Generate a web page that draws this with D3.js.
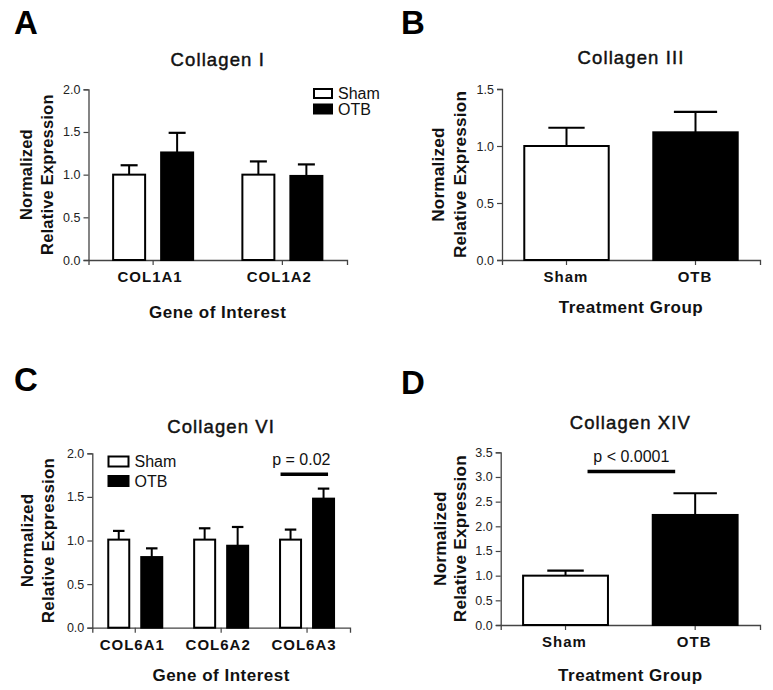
<!DOCTYPE html>
<html><head><meta charset="utf-8">
<script src="https://cdn.jsdelivr.net/npm/d3@7"></script>
<style>
body{margin:0;background:#fff}
svg{display:block}
</style></head><body>
<svg id="chart" width="773" height="690"></svg>
<script>
// ---------- DATA ----------
const seriesNames = ["Sham", "OTB"];

// Panel A - Collagen I
const colICategories = ["COL1A1", "COL1A2"];
const colIShamMean = [1.00, 1.00];
const colIShamSem  = [0.11, 0.155];
const colIOtbMean  = [1.26, 0.985];
const colIOtbSem   = [0.23, 0.135];
const colITicks    = [0, 0.5, 1.0, 1.5, 2.0];

// Panel B - Collagen III
const colIIIGroups = ["Sham", "OTB"];
const colIIIMean   = [1.00, 1.12];
const colIIISem    = [0.16, 0.18];
const colIIITicks  = [0, 0.5, 1.0, 1.5];

// Panel C - Collagen VI
const colVICategories = ["COL6A1", "COL6A2", "COL6A3"];
const colVIShamMean = [1.01, 1.01, 1.01];
const colVIShamSem  = [0.10, 0.13, 0.115];
const colVIOtbMean  = [0.81, 0.94, 1.48];
const colVIOtbSem   = [0.10, 0.215, 0.115];
const colVITicks    = [0, 0.5, 1.0, 1.5, 2.0];
const colVISigCategory = "COL6A3";
const colVISigValue = 1.76;
const colVISigLabel = "p = 0.02";

// Panel D - Collagen XIV
const colXIVGroups = ["Sham", "OTB"];
const colXIVMean   = [1.00, 2.23];
const colXIVSem    = [0.10, 0.44];
const colXIVTicks  = [0, 0.5, 1.0, 1.5, 2.0, 2.5, 3.0, 3.5];
const colXIVSigValue = 3.11;
const colXIVSigLabel = "p < 0.0001";

// ---------- DRAWING ----------
const FONT = "'Liberation Sans', Arial, Helvetica, sans-serif";
const svg = d3.select("#chart");
const fmt = d3.format(".1f");

function panelFrame(p) {
  const g = svg.append("g");
  const y = d3.scaleLinear().domain([0, p.yMax]).range([p.bottom, p.top]);
  // panel letter
  g.append("text").attr("x", p.letterX).attr("y", p.letterY)
    .attr("font-family", FONT).attr("font-weight", "bold").attr("font-size", 33)
    .text(p.letter);
  // title
  const cx = (p.left + p.right) / 2;
  g.append("text").attr("x", cx).attr("y", p.titleY).attr("text-anchor", "middle")
    .attr("font-family", FONT).attr("font-size", 18.5).attr("letter-spacing", 1.1)
    .attr("fill", "#111").attr("stroke", "#111").attr("stroke-width", 0.45)
    .text(p.title);
  // y axis
  const yAxis = d3.axisLeft(y).tickValues(p.ticks).tickFormat(fmt)
    .tickSizeOuter(0).tickSize(5).tickPadding(3);
  const ya = g.append("g").attr("transform", `translate(${p.left},0)`).call(yAxis);
  ya.select(".domain").attr("stroke", "#444").attr("stroke-width", 1.3);
  ya.selectAll(".tick line").attr("stroke", "#444").attr("stroke-width", 1.2);
  ya.selectAll(".tick text").attr("font-family", FONT).attr("font-size", 12.5).attr("fill", "#222");
  // y titles
  const cy = (p.top + p.bottom) / 2;
  [["Normalized", p.yLab1X], ["Relative Expression", p.yLab2X]].forEach(([t, xx]) => {
    g.append("text").attr("transform", `translate(${xx},${cy}) rotate(-90)`)
      .attr("text-anchor", "middle").attr("font-family", FONT).attr("font-weight", "bold")
      .attr("font-size", p.yLabSize).attr("letter-spacing", 0.2).attr("fill", "#111").text(t);
  });
  // x title
  g.append("text").attr("x", cx).attr("y", p.xTitleY).attr("text-anchor", "middle")
    .attr("font-family", FONT).attr("font-weight", "bold").attr("font-size", 17)
    .attr("letter-spacing", 0.5).attr("fill", "#111").text(p.xTitle);
  return { g, y };
}

function xAxisDraw(g, x, p, categories) {
  const xAxis = d3.axisBottom(x).tickSizeOuter(0).tickSize(5).tickFormat("");
  const xa = g.append("g").attr("transform", `translate(0,${p.bottom})`).call(xAxis);
  xa.select(".domain").attr("stroke", "#444").attr("stroke-width", 1.3);
  xa.selectAll(".tick line").attr("stroke", "#444").attr("stroke-width", 1.2);
  g.selectAll("text.cat").data(categories).join("text").attr("class", "cat")
    .attr("x", d => x(d) + x.bandwidth() / 2 + p.catShift).attr("y", p.bottom + 22)
    .attr("text-anchor", "middle").attr("font-family", FONT).attr("font-weight", "bold")
    .attr("font-size", 15).attr("letter-spacing", 1).attr("fill", "#111").text(d => d);
}

function drawBar(g, y, xLeft, bw, mean, sem, fill, capFrac) {
  const cxb = xLeft + bw / 2;
  g.append("rect").attr("x", xLeft + 1).attr("y", y(mean))
    .attr("width", bw - 2).attr("height", y(0) - y(mean))
    .attr("fill", fill).attr("stroke", "#000").attr("stroke-width", 2);
  g.append("line").attr("x1", cxb).attr("x2", cxb).attr("y1", y(mean)).attr("y2", y(mean + sem))
    .attr("stroke", "#000").attr("stroke-width", 2);
  const cw = bw * capFrac / 2;
  g.append("line").attr("x1", cxb - cw).attr("x2", cxb + cw).attr("y1", y(mean + sem)).attr("y2", y(mean + sem))
    .attr("stroke", "#000").attr("stroke-width", 2.2);
}

function legend(g, lx, ly, gap, box) {
  seriesNames.forEach((s, i) => {
    g.append("rect").attr("x", lx + 1).attr("y", ly + i * gap + 1)
      .attr("width", box[0] - 2).attr("height", box[1] - 2)
      .attr("fill", i === 0 ? "#fff" : "#000").attr("stroke", "#000").attr("stroke-width", 2);
    g.append("text").attr("x", lx + box[0] + 5).attr("y", ly + i * gap + box[1] / 2)
      .attr("dy", "0.36em").attr("font-family", FONT).attr("font-size", 16).attr("fill", "#111").text(s);
  });
}

function groupedPanel(p, categories, shamMean, shamSem, otbMean, otbSem) {
  const { g, y } = panelFrame(p);
  const x0 = d3.scaleBand().domain(categories).range([p.left, p.right]);
  const x1 = d3.scaleBand().domain(seriesNames).range([-p.half, p.half]).paddingInner(p.inner);
  xAxisDraw(g, x0, p, categories);
  categories.forEach((c, i) => {
    const gc = x0(c) + x0.bandwidth() / 2;
    drawBar(g, y, gc + x1("Sham"), x1.bandwidth(), shamMean[i], shamSem[i], "#fff", 0.5);
    drawBar(g, y, gc + x1("OTB"), x1.bandwidth(), otbMean[i], otbSem[i], "#000", 0.5);
  });
  return { g, y, x0, x1 };
}

function singlePanel(p, groups, mean, sem) {
  const { g, y } = panelFrame(p);
  const x = d3.scaleBand().domain(groups).range([p.left, p.right]).paddingInner(0.33).paddingOuter(0.165);
  xAxisDraw(g, x, p, groups);
  groups.forEach((c, i) => {
    drawBar(g, y, x(c), x.bandwidth(), mean[i], sem[i], i === 0 ? "#fff" : "#000", i === 0 ? 0.42 : 0.5);
  });
  return { g, y, x };
}

// Panel A
const A = groupedPanel({
  letter: "A", letterX: 14, letterY: 34, title: "Collagen I", titleY: 66,
  left: 88.5, right: 347, top: 89.3, bottom: 260, yMax: 2.0, ticks: colITicks,
  yLab1X: 31.5, yLab2X: 53, yLabSize: 16.5, xTitle: "Gene of Interest", xTitleY: 318,
  half: 41, inner: 0.2917, catShift: -3
}, colICategories, colIShamMean, colIShamSem, colIOtbMean, colIOtbSem);
legend(A.g, 313, 88, 15.5, [20, 11]);

// Panel B
singlePanel({
  letter: "B", letterX: 401, letterY: 34, title: "Collagen III", titleY: 64,
  left: 502, right: 760, top: 89, bottom: 260, yMax: 1.5, ticks: colIIITicks,
  yLab1X: 444, yLab2X: 466, yLabSize: 17.2, xTitle: "Treatment Group", xTitleY: 313,
  catShift: -0.5
}, colIIIGroups, colIIIMean, colIIISem);

// Panel C
const C = groupedPanel({
  letter: "C", letterX: 14, letterY: 391, title: "Collagen VI", titleY: 433,
  left: 92.3, right: 350, top: 453.3, bottom: 627.7, yMax: 2.0, ticks: colVITicks,
  yLab1X: 33, yLab2X: 54, yLabSize: 17, xTitle: "Gene of Interest", xTitleY: 681,
  half: 28, inner: 0.303, catShift: -3
}, colVICategories, colVIShamMean, colVIShamSem, colVIOtbMean, colVIOtbSem);
legend(C.g, 107.5, 455.5, 19.5, [22, 12]);
{
  const gc = C.x0(colVISigCategory) + C.x0.bandwidth() / 2;
  const x1s = gc + C.x1("Sham") + 1.5, x2s = gc + C.x1("OTB") + C.x1.bandwidth() - 7;
  C.g.append("line").attr("x1", x1s).attr("x2", x2s)
    .attr("y1", C.y(colVISigValue)).attr("y2", C.y(colVISigValue))
    .attr("stroke", "#000").attr("stroke-width", 3.5);
  C.g.append("text").attr("x", (x1s + x2s) / 2 - 3).attr("y", C.y(colVISigValue) - 9)
    .attr("text-anchor", "middle").attr("font-family", FONT).attr("font-size", 16)
    .attr("fill", "#111").text(colVISigLabel);
}

// Panel D
const D = singlePanel({
  letter: "D", letterX: 401, letterY: 394, title: "Collagen XIV", titleY: 429,
  left: 500.7, right: 760, top: 452.3, bottom: 625, yMax: 3.5, ticks: colXIVTicks,
  yLab1X: 446, yLab2X: 466, yLabSize: 17.2, xTitle: "Treatment Group", xTitleY: 681,
  catShift: -1
}, colXIVGroups, colXIVMean, colXIVSem);
{
  const xs = D.x("Sham") + D.x.bandwidth() / 2 + 22;
  const xe = D.x("OTB") + D.x.bandwidth() / 2 - 20;
  D.g.append("line").attr("x1", xs).attr("x2", xe)
    .attr("y1", D.y(colXIVSigValue)).attr("y2", D.y(colXIVSigValue))
    .attr("stroke", "#000").attr("stroke-width", 3.5);
  D.g.append("text").attr("x", (xs + xe) / 2).attr("y", D.y(colXIVSigValue) - 10)
    .attr("text-anchor", "middle").attr("font-family", FONT).attr("font-size", 16)
    .attr("fill", "#111").text(colXIVSigLabel);
}
</script>
</body></html>
